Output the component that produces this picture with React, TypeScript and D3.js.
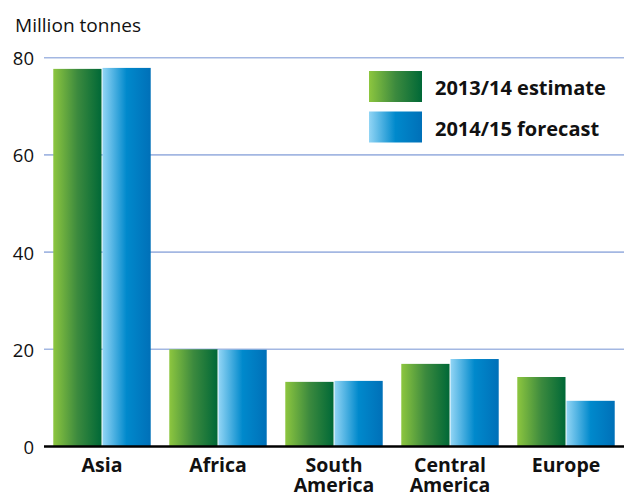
import React from "react";
import * as d3 from "d3";

const categories = ["Asia", "Africa", "South America", "Central America", "Europe"];
const seriesNames = ["2013/14 estimate", "2014/15 forecast"];
const estimate2013 = [77.7, 20.0, 13.3, 17.0, 14.3];
const forecast2014 = [77.9, 19.9, 13.5, 18.0, 9.4];
const yTicks = [0, 20, 40, 60, 80];
const yLabel = "Million tonnes";

const W = 624;
const H = 493;
const left = 44;
const right = 624;
const top = 57.7;
const bottom = 446.5;
const FONT = "'Open Sans', 'Noto Sans', sans-serif";

export default function App() {
  const x0 = d3.scaleBand<string>().domain(categories).range([left, right]).paddingInner(0.16).paddingOuter(0.08);
  const x1 = d3.scaleBand<string>().domain(seriesNames).range([0, x0.bandwidth()]).paddingInner(0.02);
  const y = d3.scaleLinear().domain([0, 80]).range([bottom, top]);
  const series = [estimate2013, forecast2014];
  const grads = ["gGreen", "gBlue"];

  return (
    <svg width={W} height={H} style={{ position: "absolute", left: 0, top: 0, fontFamily: FONT }}>
      <defs>
        <linearGradient id="gGreen" x1="0" x2="1" y1="0" y2="0">
          <stop offset="0" stopColor="#8dc63f" />
          <stop offset="0.5" stopColor="#3c8a3e" />
          <stop offset="1" stopColor="#006837" />
        </linearGradient>
        <linearGradient id="gBlue" x1="0" x2="1" y1="0" y2="0">
          <stop offset="0" stopColor="#92d5f5" />
          <stop offset="0.5" stopColor="#0089cc" />
          <stop offset="1" stopColor="#0070b8" />
        </linearGradient>
      </defs>
      <text x={15} y={32} fontSize={18.5} fill="#111" textLength={126} lengthAdjust="spacingAndGlyphs">{yLabel}</text>
      {yTicks.map((t) => (
        <g key={t}>
          {t > 0 && (
            <line x1={left} x2={right} y1={y(t)} y2={y(t)} stroke="#a3b7e2" strokeWidth={1.6} />
          )}
          <text x={34} y={y(t) + 7.5} textAnchor="end" fontSize={18.5} fill="#111">{t}</text>
        </g>
      ))}
      {categories.map((c, i) => (
        <g key={c} transform={`translate(${x0(c)},0)`}>
          {series.map((s, j) => (
            <rect
              key={j}
              x={x1(seriesNames[j])}
              y={y(s[i])}
              width={x1.bandwidth()}
              height={y(0) - y(s[i])}
              fill={`url(#${grads[j]})`}
            />
          ))}
        </g>
      ))}
      <line x1={left} x2={right} y1={y(0)} y2={y(0)} stroke="#000" strokeWidth={2.5} />
      {categories.map((c) => {
        const words = c.split(" ");
        const cx = (x0(c) as number) + x0.bandwidth() / 2;
        return (
          <text key={c} x={cx} y={472} textAnchor="middle" fontSize={19.5} fontWeight="bold" fill="#111">
            {words.map((w, k) => (
              <tspan key={k} x={cx} dy={k === 0 ? 0 : 20}>{w}</tspan>
            ))}
          </text>
        );
      })}
      {seriesNames.map((n, j) => (
        <g key={n} transform={`translate(369,${71 + j * 40.5})`}>
          <rect width={53} height={31} fill={`url(#${grads[j]})`} />
          <text x={66} y={24} fontSize={20} fontWeight="bold" fill="#111">{n}</text>
        </g>
      ))}
    </svg>
  );
}
